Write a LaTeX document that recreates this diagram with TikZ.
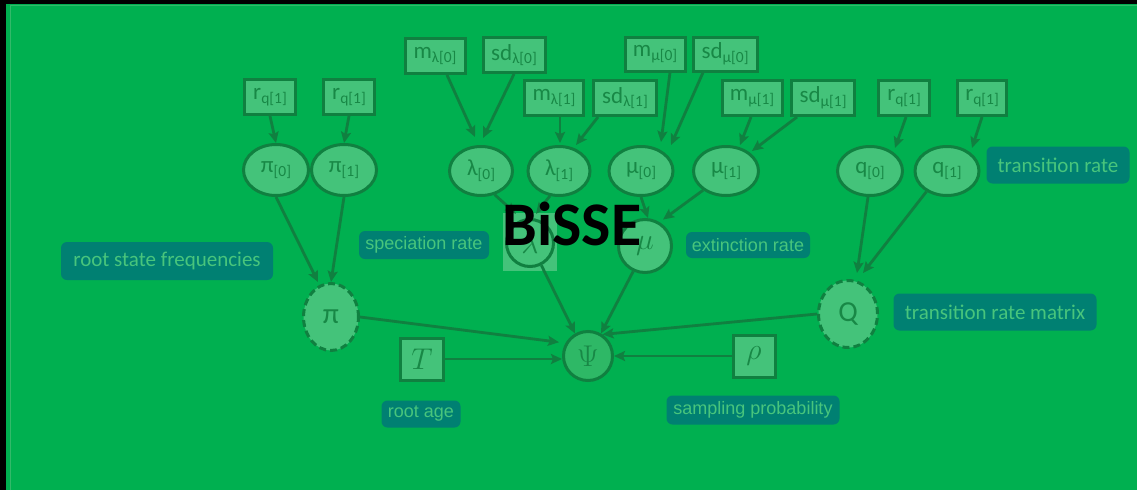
\documentclass[tikz,border=0pt]{standalone}
\usepackage{fix-cm}
\usepackage{fontspec}
\setmainfont{Carlito}
\newfontfamily\arialf{Liberation Sans}
\usetikzlibrary{shapes.geometric,arrows.meta}
\definecolor{bg}{RGB}{0,176,80}
\definecolor{nfill}{RGB}{68,195,122}
\definecolor{nbord}{RGB}{16,128,64}
\definecolor{ntext}{RGB}{24,136,70}
\definecolor{lab}{RGB}{0,128,114}
\definecolor{labtxt}{RGB}{72,197,124}
\definecolor{psifill}{RGB}{46,184,102}
\definecolor{frameline}{RGB}{50,186,106}
\newcommand\sbs[1]{\raisebox{-0.35ex}{\fontsize{15.5}{16}\selectfont #1}}
\begin{document}
\begin{tikzpicture}[x=1pt,y=-1pt,
  bx/.style={rectangle,draw=nbord,fill=nfill,line width=3pt,inner sep=0pt,
    minimum height=35pt,text=ntext,font=\fontsize{23}{26}\selectfont},
  el/.style={ellipse,draw=nbord,fill=nfill,line width=3pt,inner sep=0pt,
    minimum width=64pt,minimum height=49pt,text=ntext,font=\fontsize{23}{26}\selectfont},
  del/.style={el,dash pattern=on 7pt off 4pt,font=\fontsize{29}{32}\selectfont},
  mth/.style={circle,draw=nbord,fill=nfill,line width=3pt,inner sep=0pt,
    text=ntext,font=\fontsize{30}{36}\selectfont},
  mbx/.style={rectangle,draw=nbord,fill=nfill,line width=3pt,inner sep=0pt,
    minimum width=42pt,minimum height=42pt,text=ntext,font=\fontsize{30}{36}\selectfont},
  lbc/.style={rectangle,rounded corners=6pt,fill=lab,text=labtxt,inner sep=0pt,
    font=\fontsize{21}{24}\selectfont},
  lba/.style={rectangle,rounded corners=6pt,fill=lab,text=labtxt,inner sep=0pt,
    font=\arialf\fontsize{18}{20}\selectfont},
  arr/.style={draw=nbord,line width=2.8pt,-{Stealth[length=11pt,width=10pt,inset=2pt]}}
]
\useasboundingbox (0,0) rectangle (1137,490);
% frame
\fill[black] (0,0) rectangle (1137,490);
\fill[bg] (6,4) rectangle (1137,490);
\draw[frameline,line width=1.5pt] (10.5,490) -- (10.5,5.5) -- (1137,5.5);

% top parameter boxes
\node[bx,minimum width=51pt] (rA) at (270,97) {r\sbs{q[1]}};
\node[bx,minimum width=51pt] (rB) at (349,97) {r\sbs{q[1]}};
\node[bx,minimum width=60pt] (mL0) at (435,56) {m\sbs{λ[0]}};
\node[bx,minimum width=62pt] (sdL0) at (514,55) {sd\sbs{λ[0]}};
\node[bx,minimum width=59pt] (mL1) at (554,98) {m\sbs{λ[1]}};
\node[bx,minimum width=63pt] (sdL1) at (625,98) {sd\sbs{λ[1]}};
\node[bx,minimum width=60pt,minimum height=34pt] (mM0) at (655,54) {m\sbs{μ[0]}};
\node[bx,minimum width=64pt,minimum height=34pt] (sdM0) at (725,54) {sd\sbs{μ[0]}};
\node[bx,minimum width=60pt] (mM1) at (752,98) {m\sbs{μ[1]}};
\node[bx,minimum width=63pt] (sdM1) at (823,98) {sd\sbs{μ[1]}};
\node[bx,minimum width=51pt] (rC) at (904,98) {r\sbs{q[1]}};
\node[bx,minimum width=49pt] (rD) at (982,98) {r\sbs{q[1]}};

% ellipses
\node[el,minimum width=65pt,minimum height=51pt] (pi0) at (276,170) {π\sbs{[0]}};
\node[el,minimum width=65pt,minimum height=51pt] (pi1) at (344,170) {π\sbs{[1]}};
\node[el,minimum width=63pt] (L0) at (481,171) {λ\sbs{[0]}};
\node[el,minimum width=62pt] (L1) at (559,171) {λ\sbs{[1]}};
\node[el,minimum width=64pt] (M0) at (641,171) {μ\sbs{[0]}};
\node[el,minimum width=65pt] (M1) at (726,171) {μ\sbs{[1]}};
\node[el,minimum width=65pt] (q0) at (870,171) {q\sbs{[0]}};
\node[el,minimum width=64pt] (q1) at (947,171) {q\sbs{[1]}};

% deterministic nodes
\node[del,minimum width=55pt,minimum height=67pt] (pi) at (331,317) {π};
\node[del,minimum width=59pt,minimum height=67pt] (Q) at (848,314) {Q};

% math nodes
\node[rectangle,fill=nfill,minimum width=54pt,minimum height=58pt,inner sep=0pt] (lamsq) at (530,242) {};
\node[mth,minimum size=47pt] (lam) at (530,243) {$\lambda$};
\node[mth,minimum size=53pt] (mu) at (645,246) {$\mu$};
\node[mth,fill=psifill,minimum size=49pt] (Psi) at (588,356) {$\Psi$};
\node[mbx,minimum width=43pt] (T) at (422,359) {$T$};
\node[mbx] (rho) at (754,356) {$\rho$};

% labels
\node[lbc,minimum width=212pt,minimum height=38pt] (lrsf) at (167,261) {root state frequencies};
\node[lba,minimum width=130pt,minimum height=28pt] (lspec) at (424,245) {speciation rate};
\node[lba,minimum width=124pt,minimum height=26pt] (lext) at (748,245) {extinction rate};
\node[lbc,minimum width=143pt,minimum height=37pt] (ltr) at (1058,165) {transition rate};
\node[lbc,minimum width=203pt,minimum height=37pt] (ltrm) at (995,312) {transition rate matrix};
\node[lba,minimum width=79pt,minimum height=27pt] (lrage) at (421,414) {root age};
\node[lba,minimum width=173pt,minimum height=29pt] (lsamp) at (753,410) {sampling probability};

% arrows
\draw[arr] (rA.south) -- (pi0.north);
\draw[arr] (rB.south) -- (pi1.north);
\draw[arr] (pi0.south) -- ([xshift=-13pt]pi.north);
\draw[arr] (pi1.south) -- (pi.north);
\draw[arr] ([xshift=12pt]mL0.south) -- ([xshift=-6pt,yshift=8pt]L0.north);
\draw[arr] (sdL0.south) -- ([xshift=2pt,yshift=7pt]L0.north);
\draw[arr] ([xshift=6pt]mL1.south) -- ([xshift=1pt,yshift=2pt]L1.north);
\draw[arr] ([xshift=-27pt]sdL1.south) -- ([xshift=17pt]L1.north);
\draw[arr] ([xshift=15pt]mM0.south) -- ([xshift=20pt,yshift=3pt]M0.north);
\draw[arr] ([xshift=-22pt]sdM0.south) -- ([xshift=30pt]M0.north);
\draw[arr] ([xshift=-1pt]mM1.south) -- ([xshift=14pt]M1.north);
\draw[arr] ([xshift=-26pt]sdM1.south) -- ([xshift=26pt,yshift=-6pt]M1.north);
\draw[arr] ([xshift=2pt]rC.south) -- ([xshift=25pt,yshift=-3pt]q0.north);
\draw[arr] (rD.south) -- ([xshift=25pt,yshift=-3pt]q1.north);
\draw[arr] ([xshift=-2pt]q0.south) -- ([xshift=9pt,yshift=6pt]Q.north);
\draw[arr] (q1.225) -- ([xshift=15pt,yshift=6pt]Q.north);
\draw[arr] (L0.-60) -- ([xshift=-14pt,yshift=-1pt]lamsq.north);
\draw[arr] (L1.-110) -- ([xshift=6pt,yshift=-1pt]lamsq.north);
\draw[arr] (M0.south) -- ([xshift=3pt]mu.north);
\draw[arr] (M1.220) -- ([yshift=5pt]mu.50);
\draw[arr] (lam.-63) -- (Psi.120);
\draw[arr] (mu.-115) -- (Psi.60);
\draw[arr] (pi.east) -- ([xshift=-7pt]Psi.148);
\draw[arr] (T.east) -- (T.east -| Psi.west);
\draw[arr] (rho.west) -- (rho.west -| Psi.east);
\draw[arr] (Q.west) -- (Psi.56);

% title
\node[font=\bfseries\fontsize{62}{62}\selectfont,anchor=base,inner sep=0pt] (title) at (572,245) {BiSSE};
\end{tikzpicture}
\end{document}
